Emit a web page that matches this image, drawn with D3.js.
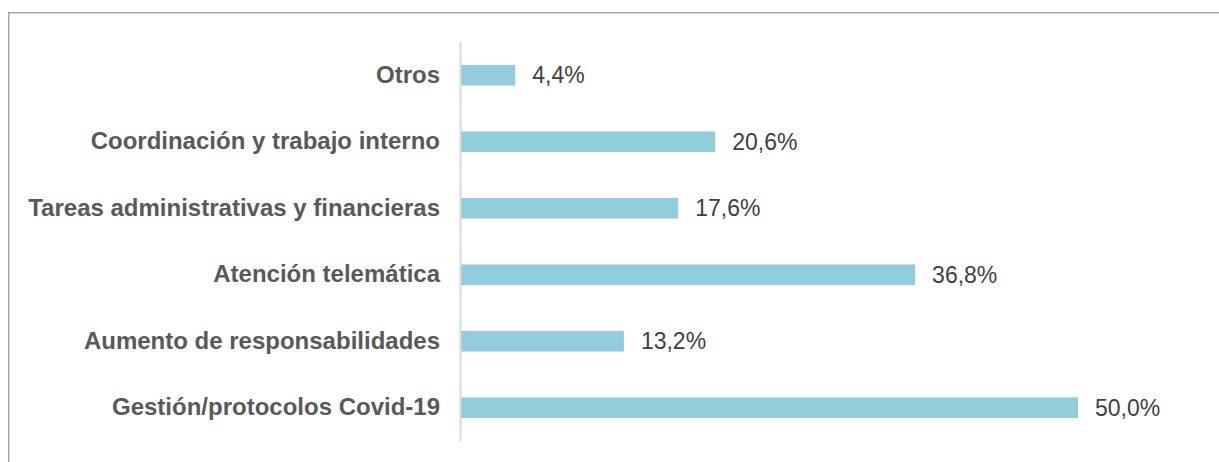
<html>
<head>
<meta charset="utf-8">
<script src="https://cdn.jsdelivr.net/npm/d3@7"></script>
<style>
    body { margin: 0; background: #fff; }
    svg { font-family: "Liberation Sans", Arial, sans-serif; }
</style>
</head>
<body>
<svg id="chart" width="1219" height="462"></svg>
<script>
    // categories top to bottom, values in %
    const categories = ["Otros", "Coordinación y trabajo interno", "Tareas administrativas y financieras",
        "Atención telemática", "Aumento de responsabilidades", "Gestión/protocolos Covid-19"];
    const values = [4.4, 20.6, 17.6, 36.8, 13.2, 50.0];
    const valueLabels = ["4,4%", "20,6%", "17,6%", "36,8%", "13,2%", "50,0%"];

    var svg = d3.select("#chart");

    // outer frame (right and bottom edges fall outside the picture)
    svg.append("rect")
        .attr("x", 8.75).attr("y", 12.75)
        .attr("width", 1230).attr("height", 470)
        .attr("fill", "none")
        .attr("stroke", "#a6a6a6")
        .attr("stroke-width", 1.5);

    var x = d3.scaleLinear().domain([0, 50]).range([461, 1078]);
    var y = d3.scaleBand().domain(categories).range([42, 441])
        .paddingInner(0.69).paddingOuter(0.345);

    svg.selectAll("rect.bar")
        .data(values)
        .enter()
        .append("rect")
        .attr("class", "bar")
        .attr("x", x(0))
        .attr("y", (d, i) => y(categories[i]))
        .attr("width", d => x(d) - x(0))
        .attr("height", y.bandwidth())
        .attr("fill", "#92cddc");

    var axis = svg.append("g")
        .attr("transform", "translate(460,0)")
        .call(d3.axisLeft(y).tickSize(0).tickSizeOuter(0).tickPadding(20));
    axis.select(".domain").attr("stroke", "#d9d9d9").attr("stroke-width", 2);
    axis.selectAll(".tick text")
        .attr("font-family", "'Liberation Sans', Arial, sans-serif")
        .attr("font-size", 24)
        .attr("font-weight", "bold")
        .attr("fill", "#595959");

    svg.selectAll("text.val")
        .data(values)
        .enter()
        .append("text")
        .attr("class", "val")
        .attr("x", d => x(d) + 17)
        .attr("y", (d, i) => y(categories[i]) + y.bandwidth() / 2)
        .attr("dy", "0.35em")
        .attr("font-size", 23)
        .attr("fill", "#404040")
        .text((d, i) => valueLabels[i]);
</script>
</body>
</html>
